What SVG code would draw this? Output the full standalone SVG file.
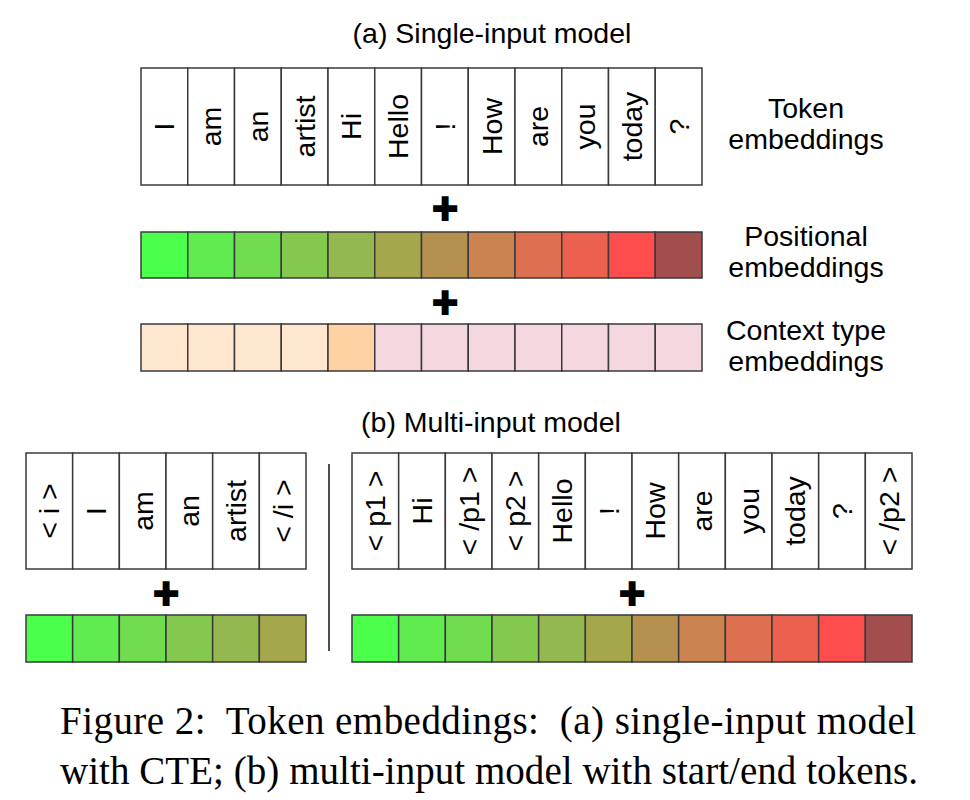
<svg xmlns="http://www.w3.org/2000/svg" width="970" height="800" viewBox="0 0 970 800">
<style>
.cell{stroke:#3a3a3a;stroke-width:1.5}
.tok{fill:#ffffff}
.t{font-family:"Liberation Sans",Arial,sans-serif;font-size:28.5px;fill:#000}
.m{text-anchor:middle}
.plus{font-family:"Liberation Sans",Arial,sans-serif;font-size:44px;font-weight:bold;fill:#000;stroke:#000;stroke-width:2;text-anchor:middle}
.cap{font-family:"Liberation Serif","Times New Roman",serif;font-size:39px;fill:#000}
.p1{fill:#4dff4d}.p2{fill:#60eb50}.p3{fill:#70dc50}.p4{fill:#84c84e}.p5{fill:#95b74f}.p6{fill:#a5a74c}
.p7{fill:#b6904e}.p8{fill:#cb834f}.p9{fill:#dc7050}.p10{fill:#eb604f}.p11{fill:#ff4d4d}.p12{fill:#a34e4e}
.c1{fill:#ffe6cf}.c2{fill:#ffd2a3}.c3{fill:#f5d7e0}
</style>
<rect width="970" height="800" fill="#ffffff"/>

<text class="t m" x="492" y="43">(a) Single-input model</text>

<g id="token-row-a">
<rect class="cell tok" x="141" y="68" width="46.75" height="117"/>
<rect class="cell tok" x="187.75" y="68" width="46.75" height="117"/>
<rect class="cell tok" x="234.5" y="68" width="46.75" height="117"/>
<rect class="cell tok" x="281.25" y="68" width="46.75" height="117"/>
<rect class="cell tok" x="328" y="68" width="46.75" height="117"/>
<rect class="cell tok" x="374.75" y="68" width="46.75" height="117"/>
<rect class="cell tok" x="421.5" y="68" width="46.75" height="117"/>
<rect class="cell tok" x="468.25" y="68" width="46.75" height="117"/>
<rect class="cell tok" x="515" y="68" width="46.75" height="117"/>
<rect class="cell tok" x="561.75" y="68" width="46.75" height="117"/>
<rect class="cell tok" x="608.5" y="68" width="46.75" height="117"/>
<rect class="cell tok" x="655.25" y="68" width="46.75" height="117"/>
<text class="t m" transform="translate(174.4,126.5) rotate(-90)">I</text>
<text class="t m" transform="translate(221.1,126.5) rotate(-90)">am</text>
<text class="t m" transform="translate(267.9,126.5) rotate(-90)">an</text>
<text class="t m" transform="translate(314.6,126.5) rotate(-90)">artist</text>
<text class="t m" transform="translate(361.4,126.5) rotate(-90)">Hi</text>
<text class="t m" transform="translate(408.1,126.5) rotate(-90)">Hello</text>
<text class="t m" transform="translate(454.9,126.5) rotate(-90)">!</text>
<text class="t m" transform="translate(501.6,126.5) rotate(-90)">How</text>
<text class="t m" transform="translate(548.4,126.5) rotate(-90)">are</text>
<text class="t m" transform="translate(595.1,126.5) rotate(-90)">you</text>
<text class="t m" transform="translate(641.9,126.5) rotate(-90)">today</text>
<text class="t m" transform="translate(688.6,126.5) rotate(-90)">?</text>
</g>

<g id="label-token">
<text class="t m" x="806" y="118">Token</text>
<text class="t m" x="806" y="149">embeddings</text>
</g>

<text class="plus" x="445" y="224">+</text>

<g id="positional-row-a">
<rect class="cell p1" x="141" y="232" width="46.75" height="46"/>
<rect class="cell p2" x="187.75" y="232" width="46.75" height="46"/>
<rect class="cell p3" x="234.5" y="232" width="46.75" height="46"/>
<rect class="cell p4" x="281.25" y="232" width="46.75" height="46"/>
<rect class="cell p5" x="328" y="232" width="46.75" height="46"/>
<rect class="cell p6" x="374.75" y="232" width="46.75" height="46"/>
<rect class="cell p7" x="421.5" y="232" width="46.75" height="46"/>
<rect class="cell p8" x="468.25" y="232" width="46.75" height="46"/>
<rect class="cell p9" x="515" y="232" width="46.75" height="46"/>
<rect class="cell p10" x="561.75" y="232" width="46.75" height="46"/>
<rect class="cell p11" x="608.5" y="232" width="46.75" height="46"/>
<rect class="cell p12" x="655.25" y="232" width="46.75" height="46"/>
</g>

<g id="label-positional">
<text class="t m" x="806" y="246">Positional</text>
<text class="t m" x="806" y="277">embeddings</text>
</g>

<text class="plus" x="445" y="318">+</text>

<g id="context-row-a">
<rect class="cell c1" x="141" y="324" width="46.75" height="47"/>
<rect class="cell c1" x="187.75" y="324" width="46.75" height="47"/>
<rect class="cell c1" x="234.5" y="324" width="46.75" height="47"/>
<rect class="cell c1" x="281.25" y="324" width="46.75" height="47"/>
<rect class="cell c2" x="328" y="324" width="46.75" height="47"/>
<rect class="cell c3" x="374.75" y="324" width="46.75" height="47"/>
<rect class="cell c3" x="421.5" y="324" width="46.75" height="47"/>
<rect class="cell c3" x="468.25" y="324" width="46.75" height="47"/>
<rect class="cell c3" x="515" y="324" width="46.75" height="47"/>
<rect class="cell c3" x="561.75" y="324" width="46.75" height="47"/>
<rect class="cell c3" x="608.5" y="324" width="46.75" height="47"/>
<rect class="cell c3" x="655.25" y="324" width="46.75" height="47"/>
</g>

<g id="label-context">
<text class="t m" x="806" y="340">Context type</text>
<text class="t m" x="806" y="371">embeddings</text>
</g>

<text class="t m" x="491" y="432">(b) Multi-input model</text>

<g id="token-row-b-left">
<rect class="cell tok" x="26" y="453" width="46.67" height="116"/>
<rect class="cell tok" x="72.67" y="453" width="46.67" height="116"/>
<rect class="cell tok" x="119.33" y="453" width="46.67" height="116"/>
<rect class="cell tok" x="166" y="453" width="46.67" height="116"/>
<rect class="cell tok" x="212.67" y="453" width="46.67" height="116"/>
<rect class="cell tok" x="259.33" y="453" width="46.67" height="116"/>
<text class="t m" transform="translate(59.3,511) rotate(-90)">&lt; i &gt;</text>
<text class="t m" transform="translate(106,511) rotate(-90)">I</text>
<text class="t m" transform="translate(152.7,511) rotate(-90)">am</text>
<text class="t m" transform="translate(199.3,511) rotate(-90)">an</text>
<text class="t m" transform="translate(246,511) rotate(-90)">artist</text>
<text class="t m" transform="translate(292.7,511) rotate(-90)">&lt; /i &gt;</text>
</g>

<text class="plus" x="166" y="608.5">+</text>

<g id="positional-row-b-left">
<rect class="cell p1" x="26" y="615" width="46.67" height="47"/>
<rect class="cell p2" x="72.67" y="615" width="46.67" height="47"/>
<rect class="cell p3" x="119.33" y="615" width="46.67" height="47"/>
<rect class="cell p4" x="166" y="615" width="46.67" height="47"/>
<rect class="cell p5" x="212.67" y="615" width="46.67" height="47"/>
<rect class="cell p6" x="259.33" y="615" width="46.67" height="47"/>
</g>

<g id="divider">
<line x1="329" y1="464" x2="329" y2="651" stroke="#222" stroke-width="1.6"/>
</g>

<g id="token-row-b-right">
<rect class="cell tok" x="352" y="453" width="46.67" height="116"/>
<rect class="cell tok" x="398.67" y="453" width="46.67" height="116"/>
<rect class="cell tok" x="445.33" y="453" width="46.67" height="116"/>
<rect class="cell tok" x="492" y="453" width="46.67" height="116"/>
<rect class="cell tok" x="538.67" y="453" width="46.67" height="116"/>
<rect class="cell tok" x="585.33" y="453" width="46.67" height="116"/>
<rect class="cell tok" x="632" y="453" width="46.67" height="116"/>
<rect class="cell tok" x="678.67" y="453" width="46.67" height="116"/>
<rect class="cell tok" x="725.33" y="453" width="46.67" height="116"/>
<rect class="cell tok" x="772" y="453" width="46.67" height="116"/>
<rect class="cell tok" x="818.67" y="453" width="46.67" height="116"/>
<rect class="cell tok" x="865.33" y="453" width="46.67" height="116"/>
<text class="t m" transform="translate(385.3,511) rotate(-90)">&lt; p1 &gt;</text>
<text class="t m" transform="translate(432,511) rotate(-90)">Hi</text>
<text class="t m" transform="translate(478.7,511) rotate(-90)">&lt; /p1 &gt;</text>
<text class="t m" transform="translate(525.3,511) rotate(-90)">&lt; p2 &gt;</text>
<text class="t m" transform="translate(572,511) rotate(-90)">Hello</text>
<text class="t m" transform="translate(618.7,511) rotate(-90)">!</text>
<text class="t m" transform="translate(665.3,511) rotate(-90)">How</text>
<text class="t m" transform="translate(712,511) rotate(-90)">are</text>
<text class="t m" transform="translate(758.7,511) rotate(-90)">you</text>
<text class="t m" transform="translate(805.3,511) rotate(-90)">today</text>
<text class="t m" transform="translate(852,511) rotate(-90)">?</text>
<text class="t m" transform="translate(898.7,511) rotate(-90)">&lt; /p2 &gt;</text>
</g>

<text class="plus" x="632" y="608.5">+</text>

<g id="positional-row-b-right">
<rect class="cell p1" x="352" y="615" width="46.67" height="47"/>
<rect class="cell p2" x="398.67" y="615" width="46.67" height="47"/>
<rect class="cell p3" x="445.33" y="615" width="46.67" height="47"/>
<rect class="cell p4" x="492" y="615" width="46.67" height="47"/>
<rect class="cell p5" x="538.67" y="615" width="46.67" height="47"/>
<rect class="cell p6" x="585.33" y="615" width="46.67" height="47"/>
<rect class="cell p7" x="632" y="615" width="46.67" height="47"/>
<rect class="cell p8" x="678.67" y="615" width="46.67" height="47"/>
<rect class="cell p9" x="725.33" y="615" width="46.67" height="47"/>
<rect class="cell p10" x="772" y="615" width="46.67" height="47"/>
<rect class="cell p11" x="818.67" y="615" width="46.67" height="47"/>
<rect class="cell p12" x="865.33" y="615" width="46.67" height="47"/>
</g>

<g id="caption">
<text class="cap" x="60" y="734" textLength="856" lengthAdjust="spacing" xml:space="preserve">Figure 2:  Token embeddings:  (a) single-input model</text>
<text class="cap" x="60" y="784" textLength="858" lengthAdjust="spacing">with CTE; (b) multi-input model with start/end tokens.</text>
</g>
</svg>
